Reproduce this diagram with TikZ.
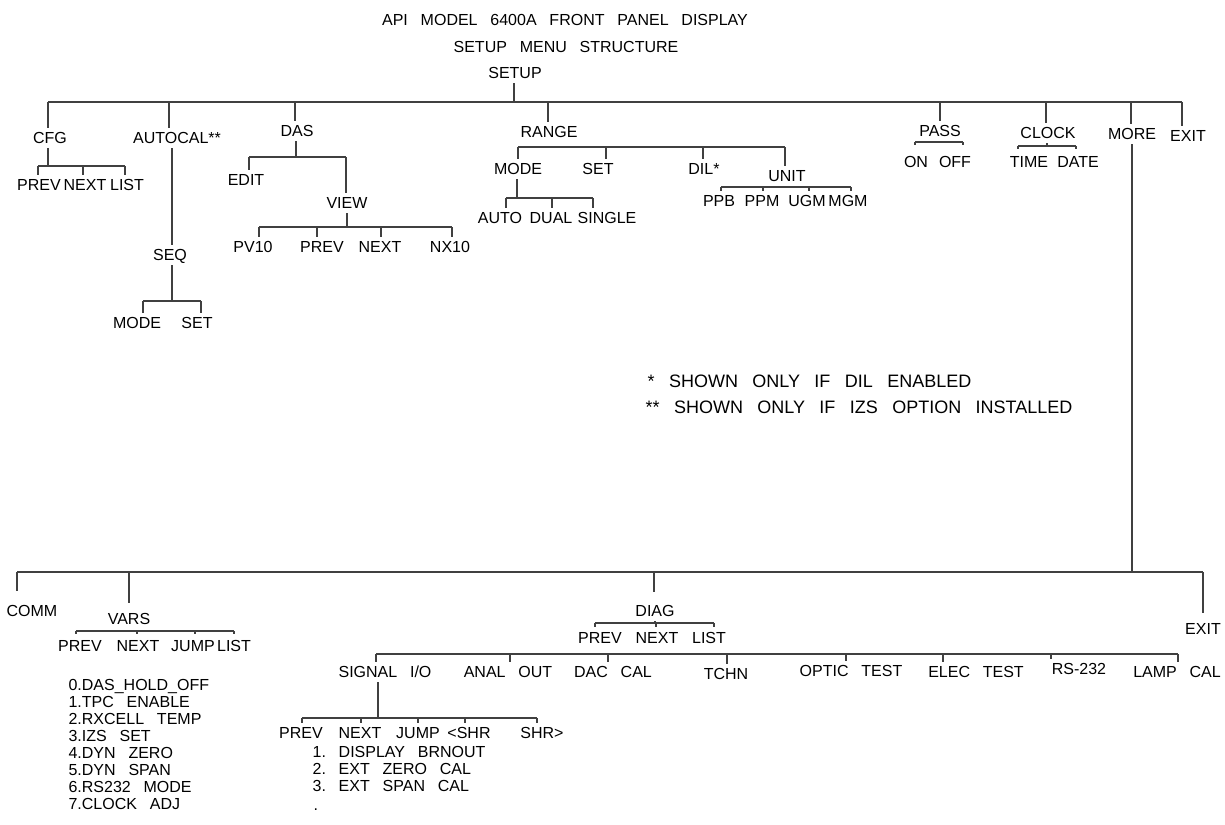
\documentclass[tikz,border=0pt]{standalone}
\usepackage{fontspec}
\setmainfont{Liberation Sans}
\newcommand{\ds}{\hspace{0.8em}}
\newcommand{\tk}[3][0pt]{\draw ([xshift=#1]#2.north |- #3) -- ([xshift=#1]#2.north);}
\newcommand{\tks}[4][0pt]{\draw[shorten >=#4] ([xshift=#1]#2.north |- #3) -- ([xshift=#1]#2.north);}
\begin{document}
\begin{tikzpicture}[x=1pt,y=-1pt,
  lbl/.style={font=\fontsize{16}{19}\selectfont, text height=11.5pt, text depth=0pt, inner xsep=0pt, inner ysep=4pt},
  lst/.style={lbl, anchor=west},
  fnt/.style={lbl, anchor=west, font=\fontsize{18}{21}\selectfont, text height=12.9pt},
  every path/.style={line width=1.2pt, draw=black!75}]
\fill[white, draw=none] (0,0) rectangle (1225,824);
\useasboundingbox[draw=none] (0,0) rectangle (1225,824);

% titles
\node[lbl] (t1) at (565,20) {API\ds MODEL\ds 6400A\ds FRONT\ds PANEL\ds DISPLAY};
\node[lbl] (t2) at (566,47) {SETUP\ds MENU\ds STRUCTURE};
\node[lbl] (setup) at (515,73) {SETUP};
\coordinate (topL) at (48,102);
\coordinate (topR) at (1182,102);
\draw (topL) -- (topR);
\draw ([xshift=-1pt]setup.south) -- ([xshift=-1pt]setup.south |- topL);

% top level
\node[lbl] (cfg) at (50,138) {CFG};
\node[lbl] (autocal) at (177,138) {AUTOCAL**};
\node[lbl] (das) at (297,131) {DAS};
\node[lbl] (range) at (549,132) {RANGE};
\node[lbl] (pass) at (940,131) {PASS};
\node[lbl] (clock) at (1048,133) {CLOCK};
\node[lbl] (more) at (1132,134) {MORE};
\node[lbl] (exit) at (1188,136) {EXIT};
\tk[-2pt]{cfg}{topL}
\tk[-8pt]{autocal}{topL}
\tk[-2pt]{das}{topL}
\tk[-1pt]{range}{topL}
\tk{pass}{topL}
\tk[-2pt]{clock}{topL}
\tk[-1pt]{more}{topL}
\tk[-6pt]{exit}{topL}

% CFG
\coordinate (cfgL) at (38,166);
\coordinate (cfgR) at (125,166);
\draw (cfgL) -- (cfgR);
\draw ([xshift=-2pt]cfg.south) -- ([xshift=-2pt]cfg.south |- cfgL);
\node[lbl] (cprev) at (39,185) {PREV};
\node[lbl] (cnext) at (85,185) {NEXT};
\node[lbl] (clist) at (127,185) {LIST};
\tk[-1pt]{cprev}{cfgL}
\tk[-2pt]{cnext}{cfgL}
\tk[-2pt]{clist}{cfgL}

% AUTOCAL
\node[lbl] (seq) at (170,255) {SEQ};
\draw ([xshift=2pt]seq.north) -- ([xshift=2pt]seq.north |- autocal.south);
\coordinate (seqL) at (143,301);
\coordinate (seqR) at (201,301);
\draw (seqL) -- (seqR);
\draw ([xshift=2pt]seq.south) -- ([xshift=2pt]seq.south |- seqL);
\node[lbl] (smode) at (137,323) {MODE};
\node[lbl] (sset) at (197,323) {SET};
\tk[6pt]{smode}{seqL}
\tk[4pt]{sset}{seqL}

% DAS
\coordinate (dasL) at (249,157);
\coordinate (dasR) at (346,157);
\draw (dasL) -- (dasR);
\draw ([xshift=-1pt]das.south) -- ([xshift=-1pt]das.south |- dasL);
\node[lbl] (edit) at (246,180) {EDIT};
\node[lbl] (view) at (347,203) {VIEW};
\tk[3pt]{edit}{dasL}
\tk[-1pt]{view}{dasL}
\coordinate (viewL) at (259,227);
\coordinate (viewR) at (452,227);
\draw (viewL) -- (viewR);
\draw (view.south) -- (view.south |- viewL);
\node[lbl] (pv10) at (253,247) {PV10};
\node[lbl] (dprev) at (322,247) {PREV};
\node[lbl] (dnext) at (380,247) {NEXT};
\node[lbl] (nx10) at (450,247) {NX10};
\tk[6pt]{pv10}{viewL}
\tk[-5pt]{dprev}{viewL}
\tk[1pt]{dnext}{viewL}
\tk[2pt]{nx10}{viewL}

% RANGE
\coordinate (rL) at (518,147);
\coordinate (rR) at (785,147);
\draw (rL) -- (rR);
\node[lbl] (rmode) at (518,169) {MODE};
\node[lbl] (rset) at (598,169) {SET};
\node[lbl] (dil) at (704,169) {DIL*};
\node[lbl] (unit) at (787,176) {UNIT};
\tk{rmode}{rL}
\tk[8pt]{rset}{rL}
\tk[-1pt]{dil}{rL}
\tk[-2pt]{unit}{rL}
\coordinate (mL) at (506,198);
\coordinate (mR) at (593,198);
\draw (mL) -- (mR);
\draw ([xshift=-1pt]rmode.south) -- ([xshift=-1pt]rmode.south |- mL);
\node[lbl] (auto) at (500,218) {AUTO};
\node[lbl] (dual) at (551,218) {DUAL};
\node[lbl] (single) at (607,218) {SINGLE};
\tk[6pt]{auto}{mL}
\tk[1pt]{dual}{mL}
\tk[-14pt]{single}{mL}
\coordinate (uL) at (721,187);
\coordinate (uR) at (851,187);
\draw (uL) -- (uR);
\node[lbl] (ppb) at (719,201) {PPB};
\node[lbl] (ppm) at (762,201) {PPM};
\node[lbl] (ugm) at (807,201) {UGM};
\node[lbl] (mgm) at (848,201) {MGM};
\tk[2pt]{ppb}{uL}
\tk[1pt]{ppm}{uL}
\tk[2pt]{ugm}{uL}
\tk[3pt]{mgm}{uL}

% PASS
\coordinate (pL) at (915,142);
\coordinate (pR) at (963,142);
\draw (pL) -- (pR);
\node[lbl] (on) at (916,162) {ON};
\node[lbl] (off) at (955,162) {OFF};
\tks[-1pt]{on}{pL}{7pt}
\tks[8pt]{off}{pL}{7pt}

% CLOCK
\coordinate (cL) at (1018,146);
\coordinate (cR) at (1076,146);
\draw (cL) -- (cR);
\draw ([xshift=-1pt]clock.south) -- ([xshift=-1pt]clock.south |- cL);
\node[lbl] (time) at (1029,162) {TIME};
\node[lbl] (date) at (1078,162) {DATE};
\tks[-11pt]{time}{cL}{3pt}
\tks[-2pt]{date}{cL}{3pt}

% footnotes
\node[fnt] (fn1) at (647,381) {*\ds SHOWN\ds ONLY\ds IF\ds DIL\ds ENABLED};
\node[fnt] (fn2) at (645,407) {**\ds SHOWN\ds ONLY\ds IF\ds IZS\ds OPTION\ds INSTALLED};

% MORE
\coordinate (bL) at (17,572);
\coordinate (bR) at (1203,572);
\draw (bL) -- (bR);
\draw (more.south) -- (more.south |- bL);
\node[lbl] (exit2) at (1203,629) {EXIT};
\tks{exit2}{bL}{6pt}
\node[lbl] (comm) at (32,611) {COMM};
\tks[-15pt]{comm}{bL}{10pt}
\node[lbl] (vars) at (129,619) {VARS};
\tks{vars}{bL}{6pt}
\coordinate (vL) at (76,631);
\coordinate (vR) at (234,631);
\draw (vL) -- (vR);
\node[lbl] (vprev) at (80,646) {PREV};
\node[lbl] (vnext) at (138,646) {NEXT};
\node[lbl] (vjump) at (193,646) {JUMP};
\node[lbl] (vlist) at (234,646) {LIST};
\tks[-4pt]{vprev}{vL}{2pt}
\tks[-1pt]{vnext}{vL}{2pt}
\tks[2pt]{vjump}{vL}{2pt}
\tks{vlist}{vL}{2pt}
\node[lst] (v0) at (68,685) {0.DAS\_HOLD\_OFF};
\node[lst] (v1) at (68,702) {1.TPC\ds ENABLE};
\node[lst] (v2) at (68,719) {2.RXCELL\ds TEMP};
\node[lst] (v3) at (68,736) {3.IZS\ds SET};
\node[lst] (v4) at (68,753) {4.DYN\ds ZERO};
\node[lst] (v5) at (68,770) {5.DYN\ds SPAN};
\node[lst] (v6) at (68,787) {6.RS232\ds MODE};
\node[lst] (v7) at (68,804) {7.CLOCK\ds ADJ};

% DIAG
\node[lbl] (diag) at (655,611) {DIAG};
\tks[-1pt]{diag}{bL}{9pt}
\coordinate (gL) at (595,623);
\coordinate (gR) at (714,623);
\draw (gL) -- (gR);
\draw (diag.south) -- (diag.south |- gL);
\node[lbl] (gprev) at (600,638) {PREV};
\node[lbl] (gnext) at (657,638) {NEXT};
\node[lbl] (glist) at (709,638) {LIST};
\tks[-5pt]{gprev}{gL}{1pt}
\tks[-1pt]{gnext}{gL}{1pt}
\tks[5pt]{glist}{gL}{1pt}
\coordinate (dL) at (376,654);
\coordinate (dR) at (1178,654);
\draw (dL) -- (dR);
\node[lbl] (sig) at (385,672) {SIGNAL\ds I/O};
\node[lbl] (anal) at (508,672) {ANAL\ds OUT};
\node[lbl] (dac) at (613,672) {DAC\ds CAL};
\node[lbl] (tchn) at (726,674) {TCHN};
\node[lbl] (optic) at (851,671) {OPTIC\ds TEST};
\node[lbl] (elec) at (976,672) {ELEC\ds TEST};
\node[lbl] (rs) at (1079,669) {RS-232};
\node[lbl] (lamp) at (1177,672) {LAMP\ds CAL};
\tk[-9pt]{sig}{dL}
\tk[2pt]{anal}{dL}
\tk[-5pt]{dac}{dL}
\tk[1pt]{tchn}{dL}
\tk[-5pt]{optic}{dL}
\tk[-33pt]{elec}{dL}
\tk[-28pt]{rs}{dL}
\tk[1pt]{lamp}{dL}

% SIGNAL I/O
\coordinate (sL) at (302,718);
\coordinate (sR) at (537,718);
\draw (sL) -- (sR);
\draw ([xshift=-7pt]sig.south) -- ([xshift=-7pt]sig.south |- sL);
\node[lbl] (sprev) at (301,733) {PREV};
\node[lbl] (snext) at (360,733) {NEXT};
\node[lbl] (sjump) at (418,733) {JUMP};
\node[lbl] (sshl) at (469,733) {<SHR};
\node[lbl] (sshr) at (542,733) {SHR>};
\tk[1pt]{sprev}{sL}
\tk[1pt]{snext}{sL}
\tk{sjump}{sL}
\tk[-4pt]{sshl}{sL}
\tk[-5pt]{sshr}{sL}
\node[lst] (s1) at (312,752) {1.\ds DISPLAY\ds BRNOUT};
\node[lst] (s2) at (312,769) {2.\ds EXT\ds ZERO\ds CAL};
\node[lst] (s3) at (312,786) {3.\ds EXT\ds SPAN\ds CAL};
\node[lst] (s4) at (313,805) {.};
\end{tikzpicture}
\end{document}
